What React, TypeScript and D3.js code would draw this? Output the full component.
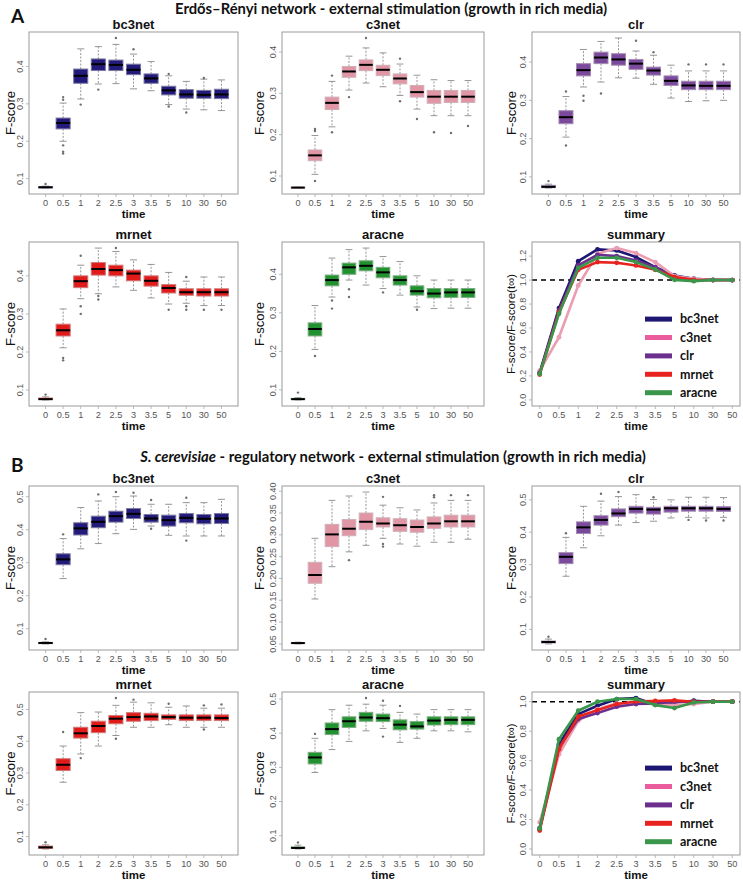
import React from "react";
import * as d3 from "d3";

const TIME_LABELS = ["0", "0.5", "1", "2", "2.5", "3", "3.5", "5", "10", "30", "50"];
const METHODS = ["bc3net", "c3net", "clr", "mrnet", "aracne"];

// box stats per time: [lower whisker, Q1, median, Q3, upper whisker]
const A_bc3net = [
  [0.075, 0.076, 0.077, 0.078, 0.080], [0.200, 0.233, 0.249, 0.262, 0.302], [0.313, 0.355, 0.375, 0.393, 0.447],
  [0.353, 0.389, 0.406, 0.420, 0.453], [0.354, 0.389, 0.404, 0.417, 0.459], [0.340, 0.378, 0.391, 0.406, 0.433],
  [0.335, 0.355, 0.368, 0.380, 0.413], [0.298, 0.324, 0.336, 0.347, 0.375], [0.286, 0.315, 0.325, 0.338, 0.360],
  [0.284, 0.315, 0.324, 0.336, 0.366], [0.282, 0.314, 0.325, 0.339, 0.364],
];
const A_bc3net_out = [[0, 0.086], [1, 0.318], [1, 0.311], [1, 0.189], [1, 0.172], [1, 0.167], [2, 0.298], [3, 0.338], [4, 0.476], [5, 0.446], [7, 0.380], [7, 0.293], [8, 0.277], [9, 0.369]];

const A_c3net = [
  [0.071, 0.071, 0.072, 0.073, 0.073], [0.104, 0.137, 0.150, 0.163, 0.198], [0.219, 0.261, 0.277, 0.291, 0.329],
  [0.308, 0.339, 0.353, 0.365, 0.390], [0.325, 0.355, 0.369, 0.381, 0.410], [0.316, 0.343, 0.357, 0.368, 0.398],
  [0.295, 0.323, 0.336, 0.347, 0.371], [0.262, 0.291, 0.303, 0.319, 0.344], [0.246, 0.276, 0.292, 0.307, 0.333],
  [0.246, 0.278, 0.292, 0.307, 0.331], [0.246, 0.278, 0.292, 0.307, 0.331],
];
const A_c3net_out = [[1, 0.214], [1, 0.209], [1, 0.088], [2, 0.343], [2, 0.206], [3, 0.291], [4, 0.434], [6, 0.384], [6, 0.281], [7, 0.238], [8, 0.206], [9, 0.204], [10, 0.221]];

const A_clr = [
  [0.071, 0.072, 0.074, 0.078, 0.081], [0.204, 0.239, 0.256, 0.273, 0.310], [0.335, 0.364, 0.379, 0.396, 0.433],
  [0.348, 0.396, 0.412, 0.426, 0.454], [0.359, 0.392, 0.407, 0.422, 0.463], [0.358, 0.381, 0.396, 0.407, 0.429],
  [0.342, 0.366, 0.378, 0.387, 0.418], [0.306, 0.339, 0.351, 0.364, 0.392], [0.297, 0.328, 0.339, 0.350, 0.377],
  [0.299, 0.328, 0.338, 0.350, 0.377], [0.300, 0.328, 0.338, 0.350, 0.377],
];
const A_clr_out = [[0, 0.089], [1, 0.323], [1, 0.182], [2, 0.312], [2, 0.299], [3, 0.318], [5, 0.456], [6, 0.426], [8, 0.394], [9, 0.394], [10, 0.394]];

const A_mrnet = [
  [0.074, 0.075, 0.076, 0.079, 0.082], [0.211, 0.242, 0.257, 0.273, 0.313], [0.340, 0.369, 0.386, 0.400, 0.428],
  [0.353, 0.402, 0.418, 0.435, 0.473], [0.371, 0.400, 0.415, 0.428, 0.464], [0.362, 0.387, 0.406, 0.415, 0.442],
  [0.342, 0.373, 0.387, 0.400, 0.430], [0.326, 0.355, 0.368, 0.377, 0.409], [0.328, 0.349, 0.357, 0.366, 0.386],
  [0.322, 0.347, 0.357, 0.366, 0.397], [0.322, 0.347, 0.357, 0.366, 0.397],
];
const A_mrnet_out = [[0, 0.088], [1, 0.184], [1, 0.178], [2, 0.453], [2, 0.320], [2, 0.300], [3, 0.347], [3, 0.338], [4, 0.473], [7, 0.311], [8, 0.397], [8, 0.320], [8, 0.311], [9, 0.311], [10, 0.311]];

const A_aracne = [
  [0.074, 0.075, 0.076, 0.078, 0.080], [0.205, 0.240, 0.258, 0.274, 0.319], [0.341, 0.370, 0.385, 0.398, 0.442],
  [0.385, 0.400, 0.418, 0.429, 0.464], [0.372, 0.409, 0.422, 0.435, 0.468], [0.363, 0.391, 0.405, 0.418, 0.446],
  [0.346, 0.372, 0.385, 0.396, 0.433], [0.315, 0.346, 0.356, 0.370, 0.396], [0.311, 0.339, 0.350, 0.363, 0.385],
  [0.312, 0.340, 0.353, 0.363, 0.385], [0.312, 0.340, 0.353, 0.363, 0.385],
];
const A_aracne_out = [[0, 0.093], [1, 0.188], [2, 0.332], [2, 0.311], [3, 0.361], [3, 0.341], [5, 0.353], [7, 0.308]];

const B_bc3net = [
  [0.054, 0.056, 0.057, 0.058, 0.060], [0.252, 0.294, 0.310, 0.327, 0.373], [0.342, 0.384, 0.404, 0.421, 0.467],
  [0.358, 0.406, 0.424, 0.441, 0.487], [0.388, 0.423, 0.441, 0.456, 0.500], [0.401, 0.434, 0.448, 0.464, 0.502],
  [0.411, 0.423, 0.434, 0.446, 0.477], [0.383, 0.411, 0.429, 0.444, 0.477], [0.381, 0.421, 0.436, 0.449, 0.482],
  [0.381, 0.418, 0.433, 0.446, 0.482], [0.381, 0.419, 0.434, 0.449, 0.492],
];
const B_bc3net_out = [[0, 0.069], [1, 0.386], [3, 0.507], [4, 0.514], [5, 0.512], [6, 0.490], [6, 0.403], [8, 0.497], [8, 0.367]];

const B_c3net = [
  [0.050, 0.051, 0.052, 0.053, 0.054], [0.153, 0.189, 0.208, 0.237, 0.292], [0.227, 0.273, 0.301, 0.324, 0.379],
  [0.261, 0.298, 0.314, 0.335, 0.389], [0.276, 0.312, 0.330, 0.350, 0.398], [0.292, 0.318, 0.326, 0.339, 0.368],
  [0.279, 0.308, 0.322, 0.337, 0.362], [0.274, 0.306, 0.318, 0.334, 0.357], [0.283, 0.315, 0.326, 0.341, 0.373],
  [0.283, 0.318, 0.331, 0.345, 0.379], [0.290, 0.318, 0.331, 0.345, 0.379],
];
const B_c3net_out = [[3, 0.242], [5, 0.387], [5, 0.279], [5, 0.273], [8, 0.391], [8, 0.386], [9, 0.391], [10, 0.391]];

const B_clr = [
  [0.055, 0.058, 0.061, 0.064, 0.070], [0.264, 0.303, 0.324, 0.337, 0.384], [0.352, 0.396, 0.415, 0.432, 0.480],
  [0.389, 0.422, 0.438, 0.451, 0.496], [0.422, 0.448, 0.458, 0.472, 0.510], [0.430, 0.459, 0.472, 0.480, 0.516],
  [0.434, 0.456, 0.470, 0.477, 0.501], [0.444, 0.462, 0.474, 0.480, 0.500], [0.446, 0.465, 0.474, 0.480, 0.508],
  [0.444, 0.465, 0.474, 0.480, 0.508], [0.446, 0.464, 0.472, 0.479, 0.507],
];
const B_clr_out = [[0, 0.077], [1, 0.397], [3, 0.519], [4, 0.524], [6, 0.508], [8, 0.438], [9, 0.436], [10, 0.436]];

const B_mrnet = [
  [0.061, 0.063, 0.066, 0.070, 0.074], [0.271, 0.308, 0.326, 0.345, 0.385], [0.360, 0.410, 0.425, 0.444, 0.490],
  [0.385, 0.427, 0.448, 0.463, 0.492], [0.418, 0.455, 0.471, 0.481, 0.513], [0.444, 0.463, 0.476, 0.490, 0.523],
  [0.444, 0.465, 0.478, 0.488, 0.521], [0.452, 0.469, 0.476, 0.483, 0.507], [0.444, 0.465, 0.474, 0.483, 0.511],
  [0.444, 0.465, 0.474, 0.483, 0.504], [0.444, 0.465, 0.473, 0.483, 0.504],
];
const B_mrnet_out = [[0, 0.082], [1, 0.429], [2, 0.347], [4, 0.536], [4, 0.408], [5, 0.531], [7, 0.518], [9, 0.513], [9, 0.437], [10, 0.516]];

const B_aracne = [
  [0.061, 0.063, 0.064, 0.067, 0.072], [0.285, 0.310, 0.329, 0.344, 0.385], [0.352, 0.396, 0.412, 0.430, 0.469],
  [0.376, 0.417, 0.435, 0.448, 0.482], [0.407, 0.435, 0.446, 0.461, 0.485], [0.414, 0.434, 0.444, 0.456, 0.482],
  [0.373, 0.410, 0.425, 0.439, 0.461], [0.385, 0.412, 0.420, 0.434, 0.456], [0.407, 0.424, 0.437, 0.448, 0.469],
  [0.407, 0.425, 0.439, 0.448, 0.469], [0.404, 0.425, 0.439, 0.448, 0.469],
];
const B_aracne_out = [[0, 0.080], [1, 0.398], [4, 0.503], [5, 0.495], [5, 0.390], [6, 0.480]];

// summary: F-score / F-score(t_inf)
const A_sum_bc3net = [0.225, 0.766, 1.158, 1.256, 1.247, 1.192, 1.108, 1.038, 1.011, 1.002, 1.0];
const A_sum_c3net = [0.245, 0.523, 0.955, 1.219, 1.267, 1.225, 1.150, 1.033, 1.010, 1.0, 1.0];
const A_sum_clr = [0.225, 0.746, 1.122, 1.211, 1.200, 1.164, 1.108, 1.019, 0.997, 1.0, 1.0];
const A_sum_mrnet = [0.212, 0.732, 1.086, 1.150, 1.144, 1.122, 1.086, 1.025, 1.002, 1.0, 1.0];
const A_sum_aracne = [0.217, 0.718, 1.102, 1.186, 1.186, 1.150, 1.089, 1.002, 0.991, 1.0, 1.0];

const B_sum_bc3net = [0.132, 0.711, 0.916, 0.973, 1.018, 1.025, 0.980, 0.995, 1.007, 1.0, 1.0];
const B_sum_c3net = [0.182, 0.643, 0.870, 0.950, 0.989, 0.989, 0.984, 0.977, 0.984, 1.0, 1.0];
const B_sum_clr = [0.143, 0.689, 0.882, 0.923, 0.966, 0.984, 0.989, 1.0, 1.0, 1.0, 1.0];
const B_sum_mrnet = [0.125, 0.677, 0.900, 0.943, 0.984, 1.002, 1.005, 1.009, 1.0, 1.0, 1.0];
const B_sum_aracne = [0.139, 0.745, 0.939, 1.0, 1.018, 1.018, 0.977, 0.957, 0.995, 1.0, 1.0];

const Y_TICKS_STD = ["0.1", "0.2", "0.3", "0.4"];
const Y_TICKS_B = ["0.1", "0.2", "0.3", "0.4", "0.5"];
const Y_TICKS_B_C3NET = ["0.05", "0.10", "0.15", "0.20", "0.25", "0.30", "0.35", "0.40"];
const Y_TICKS_SUM_A = ["0.0", "0.2", "0.4", "0.6", "0.8", "1.0", "1.2"];
const Y_TICKS_SUM_B = ["0.0", "0.2", "0.4", "0.6", "0.8", "1.0"];

const BOX_FILL: Record<string, string> = {
  bc3net: "#231b79",
  c3net: "#e196a6",
  clr: "#7c4a9d",
  mrnet: "#e11a1a",
  aracne: "#22912f",
};
const LINE_COLOR: Record<string, string> = {
  bc3net: "#1d1672",
  c3net: "#eb9db2",
  clr: "#6c2f8d",
  mrnet: "#e8231f",
  aracne: "#39964a",
};
const LEGEND_COLOR: Record<string, string> = {
  bc3net: "#1d1672",
  c3net: "#ea5c9b",
  clr: "#6c2f8d",
  mrnet: "#e8231f",
  aracne: "#39964a",
};

const AXIS_FONT = "'Liberation Sans', Arial, Helvetica, sans-serif";
const HEAD_FONT = "Lato, 'Open Sans', sans-serif";

type Frame = [number, number, number, number];

function YAxis({ frame, y, ticks }: { frame: Frame; y: any; ticks: string[] }) {
  const [x0] = frame;
  return (
    <g>
      {ticks.map((t) => {
        const v = +t;
        const yy = y(v);
        return (
          <g key={t}>
            <line x1={x0 - 3} x2={x0} y1={yy} y2={yy} stroke="#aaa" strokeWidth={0.8} />
            <text
              transform={`translate(${x0 - 6},${yy}) rotate(-90)`}
              textAnchor="middle"
              fontSize={9}
              fill="#555"
              fontFamily={AXIS_FONT}
            >
              {t}
            </text>
          </g>
        );
      })}
    </g>
  );
}

function XAxis({ frame, x }: { frame: Frame; x: any }) {
  const [, , , y1] = frame;
  return (
    <g>
      {TIME_LABELS.map((t, i) => (
        <g key={t}>
          <line x1={x(i + 1)} x2={x(i + 1)} y1={y1} y2={y1 + 3} stroke="#aaa" strokeWidth={0.8} />
          <text x={x(i + 1)} y={y1 + 11.5} textAnchor="middle" fontSize={9.2} fill="#555" fontFamily={AXIS_FONT}>
            {t}
          </text>
        </g>
      ))}
      <text
        x={(frame[0] + frame[2]) / 2}
        y={y1 + 24}
        textAnchor="middle"
        fontSize={11.5}
        fontWeight="bold"
        fill="#111"
        fontFamily={AXIS_FONT}
      >
        time
      </text>
    </g>
  );
}

function PanelTitle({ frame, title }: { frame: Frame; title: string }) {
  return (
    <text
      x={(frame[0] + frame[2]) / 2}
      y={frame[1] - 3.5}
      textAnchor="middle"
      fontSize={13}
      fontWeight="bold"
      fill="#111"
      fontFamily={AXIS_FONT}
    >
      {title}
    </text>
  );
}

function BoxPanel({
  frame,
  title,
  stats,
  outs,
  fill,
  ticks,
  ylabX,
}: {
  frame: Frame;
  title: string;
  stats: number[][];
  outs: number[][];
  fill: string;
  ticks: string[];
  ylabX: number;
}) {
  const [x0, y0, x1, y1] = frame;
  const all = stats.flatMap((s) => [s[0], s[4]]).concat(outs.map((o) => o[1]));
  const mn = d3.min(all) as number;
  const mx = d3.max(all) as number;
  const r = mx - mn;
  const y = d3.scaleLinear().domain([mn - 0.04 * r, mx + 0.04 * r]).range([y1, y0]);
  const n = stats.length;
  const xr = n;
  const x = d3.scaleLinear().domain([0.5 - 0.04 * xr, n + 0.5 + 0.04 * xr]).range([x0, x1]);
  const hw = x(0.4) - x(0);
  const sw = x(0.2) - x(0);
  const border = d3.interpolateRgb(fill, "#c4c4c4")(0.55);
  return (
    <g>
      <PanelTitle frame={frame} title={title} />
      {stats.map((s, i) => {
        const cx = x(i + 1);
        const [wl, q1, med, q3, wh] = s;
        return (
          <g key={i}>
            <line x1={cx} x2={cx} y1={y(q3)} y2={y(wh)} stroke="#8a8a8a" strokeWidth={0.9} strokeDasharray="2,1.5" />
            <line x1={cx} x2={cx} y1={y(q1)} y2={y(wl)} stroke="#8a8a8a" strokeWidth={0.9} strokeDasharray="2,1.5" />
            <line x1={cx - sw} x2={cx + sw} y1={y(wh)} y2={y(wh)} stroke="#8a8a8a" strokeWidth={0.9} />
            <line x1={cx - sw} x2={cx + sw} y1={y(wl)} y2={y(wl)} stroke="#8a8a8a" strokeWidth={0.9} />
            <rect
              x={cx - hw}
              y={y(q3)}
              width={2 * hw}
              height={Math.max(1, y(q1) - y(q3))}
              fill={fill}
              stroke={border}
              strokeWidth={1}
            />
            <line x1={cx - hw} x2={cx + hw} y1={y(med)} y2={y(med)} stroke="#000" strokeWidth={2} />
          </g>
        );
      })}
      {outs.map((o, k) => (
        <circle key={k} cx={x(o[0] + 1)} cy={y(o[1])} r={1.2} fill="#6f6f6f" />
      ))}
      <rect x={x0} y={y0} width={x1 - x0} height={y1 - y0} fill="none" stroke="#9a9a9a" strokeWidth={1} />
      <YAxis frame={frame} y={y} ticks={ticks} />
      <XAxis frame={frame} x={x} />
      <text
        transform={`translate(${ylabX},${(y0 + y1) / 2}) rotate(-90)`}
        textAnchor="middle"
        dy="0.35em"
        fontSize={13}
        fill="#111"
        fontFamily={AXIS_FONT}
      >
        F-score
      </text>
    </g>
  );
}

function SummaryPanel({
  frame,
  series,
  ticks,
  ylabX,
}: {
  frame: Frame;
  series: number[][];
  ticks: string[];
  ylabX: number;
}) {
  const [x0, y0, x1, y1] = frame;
  const mx = d3.max(series.flat()) as number;
  const r = mx - 0;
  const y = d3.scaleLinear().domain([0 - 0.04 * r, mx + 0.04 * r]).range([y1, y0]);
  const n = TIME_LABELS.length;
  const x = d3.scaleLinear().domain([1 - 0.04 * (n - 1), n + 0.04 * (n - 1)]).range([x0, x1]);
  const line = d3
    .line<number>()
    .x((_, i) => x(i + 1))
    .y((d) => y(d));
  const legendY = (i: number) => y1 - 13.3 - (METHODS.length - 1 - i) * 18.4;
  return (
    <g>
      <PanelTitle frame={frame} title="summary" />
      <line x1={x0} x2={x1} y1={y(1)} y2={y(1)} stroke="#000" strokeWidth={1.4} strokeDasharray="5,4" />
      {series.map((s, k) => {
        const m = METHODS[k];
        return (
          <g key={m}>
            <path d={line(s) as string} fill="none" stroke={LINE_COLOR[m]} strokeWidth={2.6} strokeLinejoin="round" />
            {s.map((v, i) => (
              <circle key={i} cx={x(i + 1)} cy={y(v)} r={2.4} fill={LINE_COLOR[m]} />
            ))}
          </g>
        );
      })}
      {METHODS.map((m, i) => (
        <g key={m}>
          <line x1={645} x2={672} y1={legendY(i)} y2={legendY(i)} stroke={LEGEND_COLOR[m]} strokeWidth={5} />
          <text
            x={680}
            y={legendY(i)}
            dy="0.35em"
            fontSize={12.5}
            fontWeight="bold"
            fill="#111"
            fontFamily={HEAD_FONT}
          >
            {m}
          </text>
        </g>
      ))}
      <rect x={x0} y={y0} width={x1 - x0} height={y1 - y0} fill="none" stroke="#9a9a9a" strokeWidth={1} />
      <YAxis frame={frame} y={y} ticks={ticks} />
      <XAxis frame={frame} x={x} />
      <text
        transform={`translate(${ylabX},${(y0 + y1) / 2}) rotate(-90)`}
        textAnchor="middle"
        dy="0.35em"
        fontSize={11.5}
        fill="#111"
        fontFamily={AXIS_FONT}
      >
        F-score/F-score(t∞)
      </text>
    </g>
  );
}

const COLS: [number, number][] = [
  [29, 238],
  [282, 484],
  [532, 740],
];
const ROWS: [number, number][] = [
  [32, 194],
  [242, 406],
  [486, 650],
  [692, 855],
];
const fr = (c: number, r: number): Frame => [COLS[c][0], ROWS[r][0], COLS[c][1], ROWS[r][1]];
const YLAB_X = [10, 259, 511];

export default function App() {
  return (
    <svg
      width={743}
      height={880}
      viewBox="0 0 743 880"
      style={{ position: "absolute", left: 0, top: 0, background: "#fff" }}
    >
      <rect x={0} y={0} width={743} height={880} fill="#fff" />
      <text x={11} y={23} fontSize={19} fontWeight="bold" fontFamily={HEAD_FONT} fill="#111">
        A
      </text>
      <text x={391} y={14} textAnchor="middle" fontSize={14.8} fontWeight="bold" fontFamily={HEAD_FONT} fill="#111">
        Erdős–Rényi network - external stimulation (growth in rich media)
      </text>
      <text x={11} y={472} fontSize={19} fontWeight="bold" fontFamily={HEAD_FONT} fill="#111">
        B
      </text>
      <text x={393} y={462} textAnchor="middle" fontSize={14.8} fontWeight="bold" fontFamily={HEAD_FONT} fill="#111">
        <tspan fontStyle="italic">S. cerevisiae</tspan> - regulatory network - external stimulation (growth in rich media)
      </text>

      <BoxPanel frame={fr(0, 0)} title="bc3net" stats={A_bc3net} outs={A_bc3net_out} fill={BOX_FILL.bc3net} ticks={Y_TICKS_STD} ylabX={YLAB_X[0]} />
      <BoxPanel frame={fr(1, 0)} title="c3net" stats={A_c3net} outs={A_c3net_out} fill={BOX_FILL.c3net} ticks={Y_TICKS_STD} ylabX={YLAB_X[1]} />
      <BoxPanel frame={fr(2, 0)} title="clr" stats={A_clr} outs={A_clr_out} fill={BOX_FILL.clr} ticks={Y_TICKS_STD} ylabX={YLAB_X[2]} />
      <BoxPanel frame={fr(0, 1)} title="mrnet" stats={A_mrnet} outs={A_mrnet_out} fill={BOX_FILL.mrnet} ticks={Y_TICKS_STD} ylabX={YLAB_X[0]} />
      <BoxPanel frame={fr(1, 1)} title="aracne" stats={A_aracne} outs={A_aracne_out} fill={BOX_FILL.aracne} ticks={Y_TICKS_STD} ylabX={YLAB_X[1]} />
      <SummaryPanel
        frame={fr(2, 1)}
        series={[A_sum_bc3net, A_sum_c3net, A_sum_clr, A_sum_mrnet, A_sum_aracne]}
        ticks={Y_TICKS_SUM_A}
        ylabX={YLAB_X[2]}
      />

      <BoxPanel frame={fr(0, 2)} title="bc3net" stats={B_bc3net} outs={B_bc3net_out} fill={BOX_FILL.bc3net} ticks={Y_TICKS_B} ylabX={YLAB_X[0]} />
      <BoxPanel frame={fr(1, 2)} title="c3net" stats={B_c3net} outs={B_c3net_out} fill={BOX_FILL.c3net} ticks={Y_TICKS_B_C3NET} ylabX={YLAB_X[1]} />
      <BoxPanel frame={fr(2, 2)} title="clr" stats={B_clr} outs={B_clr_out} fill={BOX_FILL.clr} ticks={Y_TICKS_B} ylabX={YLAB_X[2]} />
      <BoxPanel frame={fr(0, 3)} title="mrnet" stats={B_mrnet} outs={B_mrnet_out} fill={BOX_FILL.mrnet} ticks={Y_TICKS_B} ylabX={YLAB_X[0]} />
      <BoxPanel frame={fr(1, 3)} title="aracne" stats={B_aracne} outs={B_aracne_out} fill={BOX_FILL.aracne} ticks={Y_TICKS_B} ylabX={YLAB_X[1]} />
      <SummaryPanel
        frame={fr(2, 3)}
        series={[B_sum_bc3net, B_sum_c3net, B_sum_clr, B_sum_mrnet, B_sum_aracne]}
        ticks={Y_TICKS_SUM_B}
        ylabX={YLAB_X[2]}
      />
    </svg>
  );
}
